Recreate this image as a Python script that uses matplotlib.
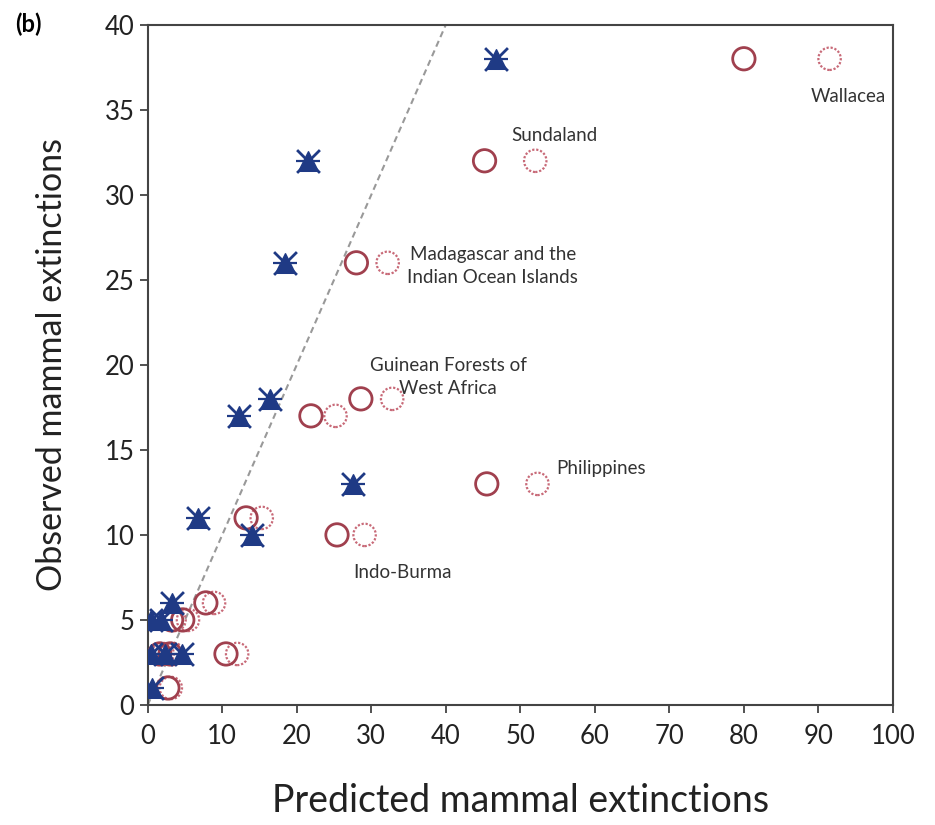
import matplotlib
matplotlib.use("Agg")
import matplotlib.pyplot as plt

plt.rcParams['font.family'] = ['Lato', 'DejaVu Sans']

# Observed extinctions per hotspot/point
observed = [38, 32, 26, 18, 17, 13, 10, 11, 6, 5, 5, 3, 3, 3, 1]
# Predicted by model A (blue stars)
pred_blue = [46.8, 21.5, 18.4, 16.4, 12.2, 27.5, 14.0, 6.7, 3.2, 0.4, 1.8, 0.4, 2.3, 4.6, 0.6]
# Predicted by model B (solid red circles)
pred_solid = [80.0, 45.2, 28.0, 28.6, 21.9, 45.5, 25.4, 13.2, 7.8, 3.2, 4.7, 1.6, 3.0, 10.5, 2.7]
# Predicted by model C (dotted red circles)
pred_dotted = [91.5, 52.0, 32.2, 32.8, 25.2, 52.3, 29.1, 15.3, 8.9, 3.6, 5.4, 2.0, 3.4, 12.0, 3.1]

labels = ["Wallacea", "Sundaland", "Madagascar and the\nIndian Ocean Islands",
          "Guinean Forests of\nWest Africa", "Philippines", "Indo-Burma"]
label_x = [94.0, 54.6, 46.3, 40.3, 60.8, 34.2]
label_y = [35.8, 33.5, 25.8, 19.3, 13.9, 7.8]

xticks = list(range(0, 101, 10))
yticks = list(range(0, 41, 5))

fig = plt.figure(figsize=(9.35, 8.25), dpi=100)
ax = fig.add_axes([0.158, 0.1455, 0.797, 0.8245])

ax.plot([0, 40], [0, 40], linestyle=(0, (3, 2)), color='#999999', lw=1.5, zorder=1)

ax.scatter(pred_dotted, observed, s=260, facecolors='none', edgecolors='#C86A78',
           linewidths=1.6, linestyle=(0, (1, 0.8)), zorder=2)
ax.scatter(pred_solid, observed, s=260, facecolors='none', edgecolors='#A0404E',
           linewidths=2.0, zorder=3)
ax.scatter(pred_blue, observed, s=200, marker='^', color='#1F3A85', zorder=4)
ax.scatter(pred_blue, observed, s=270, marker='x', color='#1F3A85',
           linewidths=2.0, zorder=5)
ax.scatter(pred_blue, observed, s=310, marker='_', color='#1F3A85',
           linewidths=1.6, zorder=5)

for t, x, y in zip(labels, label_x, label_y):
    ax.text(x, y, t, ha='center', va='center', fontsize=13.5, color='#333333',
            linespacing=1.4)

ax.set_xlim(0, 100)
ax.set_ylim(0, 40)
ax.set_xticks(xticks)
ax.set_yticks(yticks)
ax.tick_params(axis='both', labelsize=18.5, direction='out', length=6, width=1.2,
               colors='#333333', labelcolor='#222222')
ax.tick_params(axis='x', pad=8)
for sp in ax.spines.values():
    sp.set_linewidth(1.5)
    sp.set_color('#444444')

ax.set_xlabel("Predicted mammal extinctions", fontsize=27, color='#222222', labelpad=24)
ax.set_ylabel("Observed mammal extinctions", fontsize=24.5, color='#222222', labelpad=26)

fig.text(0.016, 0.97, "(b)", fontsize=17, fontweight='bold', va='center', ha='left')

fig.savefig("out.png", dpi=100)
